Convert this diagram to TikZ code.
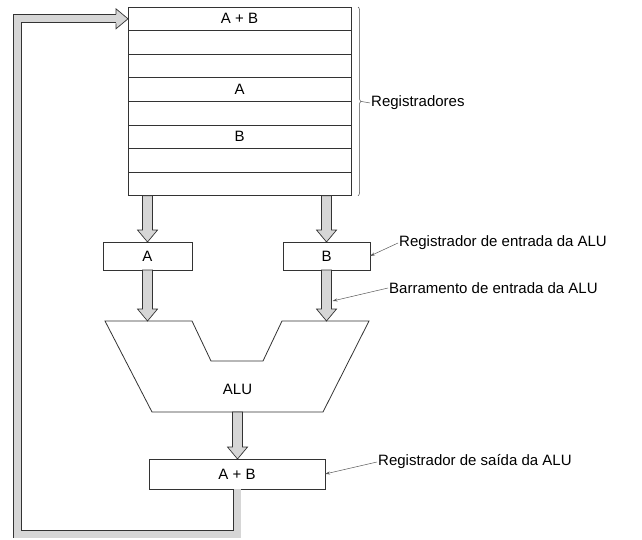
\documentclass[tikz,border=0pt]{standalone}
\usepackage{fontspec}
\setmainfont{Liberation Sans}
\usepackage{tikz}
\usetikzlibrary{arrows.meta,positioning,calc,decorations.pathreplacing}
\definecolor{busfill}{HTML}{D6D6D6}
\definecolor{linegray}{HTML}{333333}

% block arrow of a bus, running downwards from #1 to #2
\newcommand{\busarrow}[2]{%
  \draw[bus] let \p1=(#1), \p2=(#2) in
    (\x1-5pt,\y1) -- (\x1-5pt,\y2+12pt) -- (\x1-10pt,\y2+12pt) -- (\x1,\y2)
    -- (\x1+10pt,\y2+12pt) -- (\x1+5pt,\y2+12pt) -- (\x1+5pt,\y1) -- cycle;}

\begin{document}
\begin{tikzpicture}[x=1pt, y=-1pt,
  reg/.style={draw=linegray, line width=0.8pt, minimum width=223pt, minimum height=23.6pt, inner sep=0pt, outer sep=0pt, font=\fontsize{15}{17}\selectfont},
  box/.style={draw=linegray, line width=0.8pt, minimum height=28pt, inner sep=0pt, outer sep=0pt, font=\fontsize{15}{17}\selectfont},
  bus/.style={draw=linegray, line width=0.7pt, fill=busfill},
  loopbus/.style={draw=linegray, line width=0.8pt, double=busfill, double distance=7pt},
  lbl/.style={anchor=west, inner sep=1pt, font=\fontsize{15}{17}\selectfont},
  lead/.style={-{Stealth[length=5pt, width=3pt]}, line width=0.5pt, black!65}
]
  \useasboundingbox (0,0) rectangle (642,540);

  % register file
  \node[reg] (r1) at (239.5,18.8) {A + B};
  \node[reg, below=0pt of r1] (r2) {};
  \node[reg, below=0pt of r2] (r3) {};
  \node[reg, below=0pt of r3] (r4) {A};
  \node[reg, below=0pt of r4] (r5) {};
  \node[reg, below=0pt of r5] (r6) {B};
  \node[reg, below=0pt of r6] (r7) {};
  \node[reg, below=0pt of r7] (r8) {};

  \draw[decorate, decoration={brace, amplitude=3pt}, line width=0.5pt, black!70]
    ([xshift=7pt]r1.north east) -- ([xshift=7pt]r8.south east);
  \coordinate (braceTip) at ($([xshift=7pt]r1.north east)!0.5!([xshift=7pt]r8.south east)+(3,0)$);
  \node[lbl] (lblRegs) at (370,103) {Registradores};
  \draw[line width=0.5pt, black!65] (braceTip) -- (lblRegs.west);

  % ALU input registers
  \node[box, minimum width=89pt] (aIn) at (147.5,256) {A};
  \node[box, minimum width=87pt] (bIn) at (326.5,256) {B};

  % ALU
  \draw[line width=0.8pt, draw=linegray] (105,321) -- (192,321) -- (211,361) -- (263,361)
    -- (282,321) -- (369,321) -- (323,412) -- (152,412) -- cycle;
  \coordinate (aluTop) at (237,321);
  \coordinate (aluBot) at (237.5,412);
  \node[font=\fontsize{15}{17}\selectfont] (alu) at (237.5,389) {ALU};

  % ALU output register
  \node[box, minimum width=176pt, minimum height=30pt] (aluOut) at (237,474) {A + B};

  % buses
  \busarrow{aIn.north |- r8.south}{aIn.north}
  \busarrow{bIn.north |- r8.south}{bIn.north}
  \busarrow{aIn.south}{aIn.south |- aluTop}
  \busarrow{bIn.south}{bIn.south |- aluTop}
  \busarrow{aluBot}{aluOut.north}

  % feedback to the register file
  \coordinate (loopBL) at (17.5,534);
  \coordinate (loopTL) at (17.5,18.8);
  \draw[loopbus] (aluOut.south) -- (aluOut.south |- loopBL) -- (loopBL) -- (loopTL)
    -- ($(r1.west)+(-12,0)$);
  \draw[bus] ($(r1.west)+(-12,-4.5)$) -- ($(r1.west)+(-12,-10)$) -- (r1.west)
    -- ($(r1.west)+(-12,10)$) -- ($(r1.west)+(-12,4.5)$);

  % labels
  \node[lbl] (lblInReg) at (398,243) {Registrador de entrada da ALU};
  \node[lbl] (lblInBus) at (388,288) {Barramento de entrada da ALU};
  \node[lbl] (lblOutReg) at (377,462) {Registrador de saída da ALU};
  \coordinate (busB) at (332.5,301);
  \draw[lead] (lblInReg.west) -- (bIn.east);
  \draw[lead] (lblInBus.west) -- (busB);
  \draw[lead] (lblOutReg.west) -- (aluOut.east);
\end{tikzpicture}
\end{document}
